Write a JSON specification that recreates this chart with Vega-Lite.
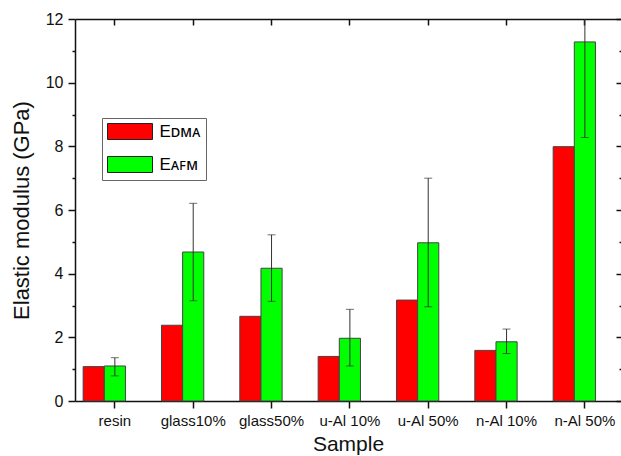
{
  "$schema": "https://vega.github.io/schema/vega-lite/v6.json",
  "autosize": {"type": "none"},
  "padding": {"left": 75, "top": 19, "right": 0, "bottom": 55},
  "width": 546,
  "height": 382,
  "background": "white",
  "config": {
    "view": {"stroke": null},
    "font": "Liberation Sans",
    "axis": {"grid": false, "domainColor": "#111", "domainWidth": 1.5, "tickColor": "#111", "tickWidth": 1.5, "labelColor": "#111", "titleColor": "#111", "labelFont": "Liberation Sans", "titleFont": "Liberation Sans", "titleFontWeight": "normal"}
  },
  "data": {
    "values": [
      {"sample": "resin", "series": "DMA", "value": 1.08},
      {"sample": "resin", "series": "AFM", "value": 1.1, "lo": 0.79, "hi": 1.36},
      {"sample": "glass10%", "series": "DMA", "value": 2.38},
      {"sample": "glass10%", "series": "AFM", "value": 4.68, "lo": 3.15, "hi": 6.21},
      {"sample": "glass50%", "series": "DMA", "value": 2.66},
      {"sample": "glass50%", "series": "AFM", "value": 4.17, "lo": 3.13, "hi": 5.22},
      {"sample": "u-Al 10%", "series": "DMA", "value": 1.4},
      {"sample": "u-Al 10%", "series": "AFM", "value": 1.97, "lo": 1.1, "hi": 2.88},
      {"sample": "u-Al 50%", "series": "DMA", "value": 3.17},
      {"sample": "u-Al 50%", "series": "AFM", "value": 4.97, "lo": 2.96, "hi": 7.0},
      {"sample": "n-Al 10%", "series": "DMA", "value": 1.59},
      {"sample": "n-Al 10%", "series": "AFM", "value": 1.86, "lo": 1.49, "hi": 2.26},
      {"sample": "n-Al 50%", "series": "DMA", "value": 7.99},
      {"sample": "n-Al 50%", "series": "AFM", "value": 11.28, "lo": 8.28, "hi": 14.28}
    ]
  },
  "resolve": {"axis": {"x": "independent", "y": "independent"}},
  "layer": [
    {
      "mark": {"type": "bar", "stroke": "#444", "strokeWidth": 1},
      "encoding": {
        "x": {
          "field": "sample", "type": "nominal", "sort": null,
          "scale": {"paddingInner": 0.19, "paddingOuter": 0.08, "align": 0.65},
          "axis": {"orient": "bottom", "title": "Sample", "labelAngle": 0, "labelFontSize": 15, "tickSize": 7, "labelPadding": 5, "titleFontSize": 21, "titlePadding": 5}
        },
        "xOffset": {"field": "series", "scale": {"domain": ["DMA", "AFM", "pad"], "paddingInner": 0, "paddingOuter": 0}},
        "y": {
          "field": "value", "type": "quantitative",
          "scale": {"domain": [0, 12], "nice": false},
          "axis": {"orient": "left", "title": "Elastic modulus (GPa)", "values": [0,1,2,3,4,5,6,7,8,9,10,11,12],
            "labelExpr": "datum.value % 2 === 0 ? datum.label : ''",
            "tickSize": {"condition": {"test": "datum.value % 2 === 0", "value": 7}, "value": 3},
            "labelFontSize": 16, "labelPadding": 5, "titleFontSize": 22, "titlePadding": 12}
        },
        "color": {
          "field": "series", "type": "nominal",
          "scale": {"domain": ["DMA", "AFM"], "range": ["#ff0000", "#00ff00"]},
          "legend": {
            "orient": "none", "legendX": 27, "legendY": 99, "title": null,
            "labelExpr": "datum.label === 'DMA' ? 'Eᴅᴍᴀ' : 'Eᴀꜰᴍ'",
            "symbolType": "M-2.8125,-1L2.8125,-1L2.8125,1L-2.8125,1Z",
            "symbolSize": 256, "symbolOffset": 14.5, "symbolStrokeColor": "#222", "symbolStrokeWidth": 1,
            "labelFontSize": 17, "labelOffset": 21, "padding": 5, "rowPadding": 12,
            "strokeColor": "#666", "fillColor": "white"
          }
        }
      }
    },
    {
      "transform": [{"filter": "datum.series === 'AFM'"}],
      "mark": {"type": "rule", "color": "#333", "strokeWidth": 1, "clip": true},
      "encoding": {
        "x": {"field": "sample", "type": "nominal", "sort": null,
          "axis": {"orient": "top", "labels": false, "title": null, "tickSize": -6}},
        "y": {"field": "lo", "type": "quantitative",
          "axis": {"orient": "right", "labels": false, "title": null, "domain": false, "values": [0,1,2,3,4,5,6,7,8,9,10,11,12],
            "tickSize": {"condition": {"test": "datum.value % 2 === 0", "value": -5}, "value": -2}}},
        "y2": {"field": "hi"}
      }
    },
    {
      "transform": [{"filter": "datum.series === 'AFM'"}],
      "mark": {"type": "tick", "color": "#333", "size": 8, "thickness": 1, "clip": true},
      "encoding": {
        "x": {"field": "sample", "type": "nominal", "sort": null, "axis": null},
        "y": {"field": "lo", "type": "quantitative", "axis": null}
      }
    },
    {
      "transform": [{"filter": "datum.series === 'AFM'"}],
      "mark": {"type": "tick", "color": "#333", "size": 8, "thickness": 1, "clip": true},
      "encoding": {
        "x": {"field": "sample", "type": "nominal", "sort": null, "axis": null},
        "y": {"field": "hi", "type": "quantitative", "axis": null}
      }
    }
  ]
}
